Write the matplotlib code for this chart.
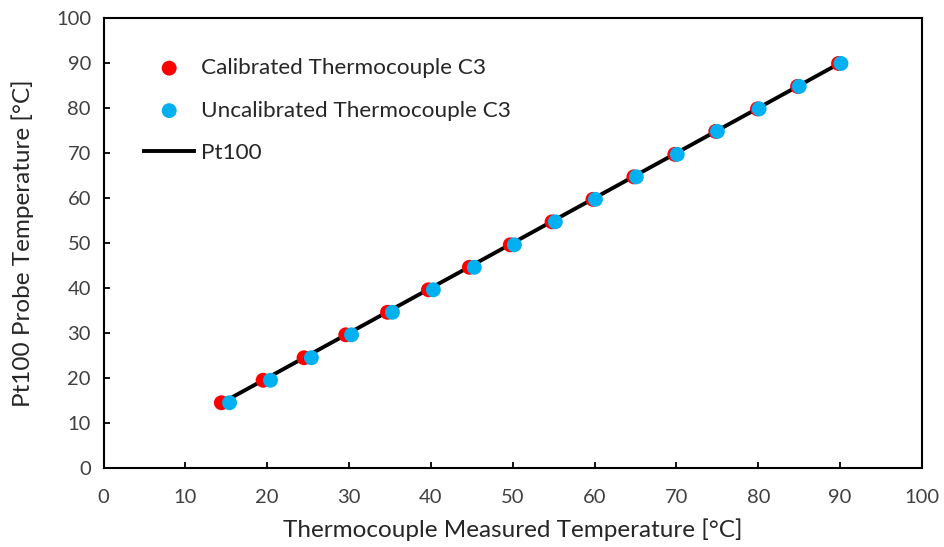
import matplotlib
matplotlib.use("Agg")
import matplotlib.pyplot as plt

plt.rcParams['font.family'] = ['Lato', 'DejaVu Sans']

# Reference probe temperatures (Pt100), degC
pt100 = [14.5, 19.5, 24.5, 29.6, 34.6, 39.6, 44.6, 49.6, 54.7, 59.7,
         64.7, 69.7, 74.8, 79.8, 84.8, 89.9]
# Thermocouple readings after calibration
calibrated = [14.4, 19.5, 24.5, 29.6, 34.7, 39.7, 44.7, 49.7, 54.8, 59.8,
              64.8, 69.8, 74.8, 79.9, 84.8, 89.8]
# Thermocouple readings before calibration
uncalibrated = [15.4, 20.4, 25.4, 30.3, 35.3, 40.3, 45.3, 50.2, 55.2, 60.1,
                65.1, 70.1, 75.0, 80.1, 85.0, 90.1]

x_ticks = list(range(0, 101, 10))
y_ticks = list(range(0, 101, 10))

fig = plt.figure(figsize=(9.44, 5.47), dpi=100)
ax = fig.add_axes([103.5 / 944, 1 - 468 / 547, (922 - 103.5) / 944, (468 - 18) / 547])

ax.plot(pt100, pt100, color='black', lw=2.8, zorder=1, label='Pt100')
ax.scatter(calibrated, pt100, s=115, color='#ff0000', edgecolors='none', zorder=2,
           label='Calibrated Thermocouple C3')
ax.scatter(uncalibrated, pt100, s=115, color='#00b0f0', edgecolors='none', zorder=3,
           label='Uncalibrated Thermocouple C3')

ax.set_xlim(0, 100)
ax.set_ylim(0, 100)
ax.set_xticks(x_ticks)
ax.set_yticks(y_ticks)
ax.tick_params(direction='in', length=4, width=1.3, labelsize=14.5, colors='black',
               labelcolor='#404040')
ax.tick_params(axis='x', pad=15)
ax.tick_params(axis='y', pad=9)
for sp in ax.spines.values():
    sp.set_linewidth(1.5)
    sp.set_color('black')

ax.set_xlabel('Thermocouple Measured Temperature [°C]', fontsize=17.5, color='#262626', labelpad=9)
ax.set_ylabel('Pt100 Probe Temperature [°C]', fontsize=17.5, color='#262626', labelpad=16)

handles, labels = ax.get_legend_handles_labels()
order = [1, 2, 0]
ax.legend([handles[i] for i in order], [labels[i] for i in order],
          loc='upper left', bbox_to_anchor=(0.05, 0.911), frameon=False,
          fontsize=16.2, labelspacing=1.0, handlelength=2.2, handletextpad=0.3,
          borderaxespad=0.0, borderpad=0.0, labelcolor='#262626', markerscale=1.0)

fig.savefig('out.png', dpi=100)
